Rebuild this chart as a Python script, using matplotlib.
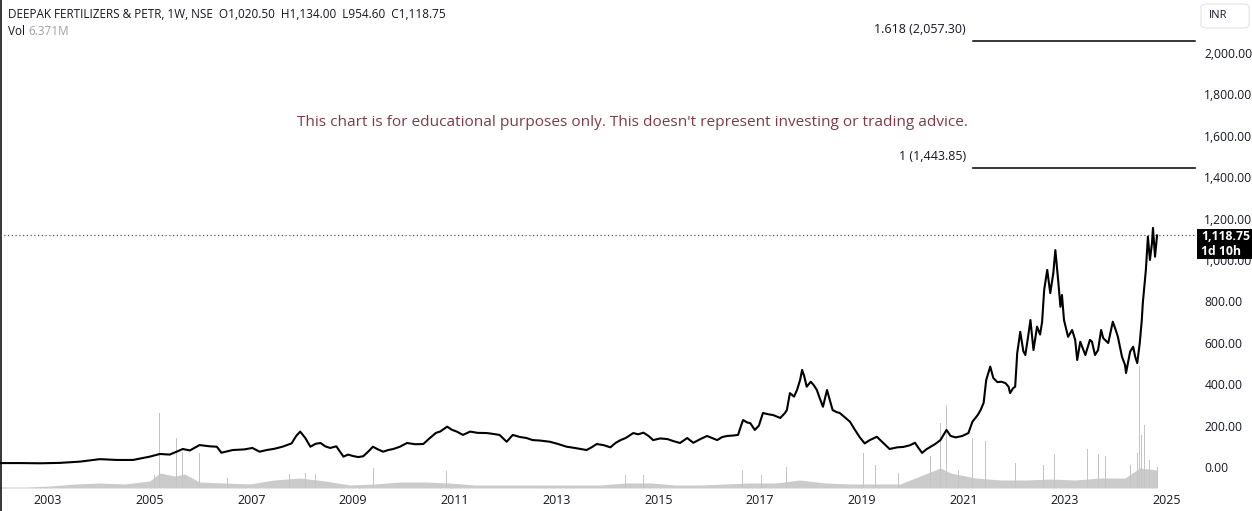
import numpy as np
import matplotlib
matplotlib.use("Agg")
import matplotlib.pyplot as plt
from matplotlib.patches import Rectangle, FancyBboxPatch

plt.rcParams['font.family'] = ['Open Sans', 'DejaVu Sans']

# weekly close (decimal year, INR)
price_dates = [
    2002.06, 2002.45, 2002.85, 2003.24, 2003.63, 2004.02, 2004.36, 2004.67, 2005.00, 2005.20,
    2005.39, 2005.53, 2005.65, 2005.79, 2005.98, 2006.18, 2006.32, 2006.41, 2006.63, 2006.86,
    2007.02, 2007.16, 2007.30, 2007.45, 2007.61, 2007.79, 2007.88, 2007.96, 2008.06, 2008.16,
    2008.26, 2008.36, 2008.45, 2008.55, 2008.67, 2008.81, 2008.90, 2009.00, 2009.10, 2009.20,
    2009.30, 2009.39, 2009.49, 2009.59, 2009.69, 2009.79, 2009.92, 2010.06, 2010.22, 2010.38,
    2010.51, 2010.63, 2010.71, 2010.85, 2010.94, 2011.04, 2011.16, 2011.30, 2011.45, 2011.63,
    2011.75, 2011.88, 2012.02, 2012.14, 2012.28, 2012.41, 2012.53, 2012.67, 2012.87, 2013.02,
    2013.20, 2013.36, 2013.45, 2013.59, 2013.69, 2013.79, 2013.92, 2014.06, 2014.16, 2014.26,
    2014.36, 2014.51, 2014.61, 2014.71, 2014.81, 2014.90, 2015.04, 2015.18, 2015.30, 2015.43,
    2015.57, 2015.69, 2015.83, 2015.96, 2016.06, 2016.16, 2016.26, 2016.36, 2016.47, 2016.57,
    2016.63, 2016.67, 2016.75, 2016.81, 2016.90, 2016.98, 2017.06, 2017.16, 2017.26, 2017.40,
    2017.49, 2017.53, 2017.59, 2017.67, 2017.73, 2017.79, 2017.83, 2017.87, 2017.92, 2018.00,
    2018.06, 2018.12, 2018.18, 2018.24, 2018.32, 2018.38, 2018.43, 2018.51, 2018.57, 2018.67,
    2018.77, 2018.87, 2018.96, 2019.06, 2019.16, 2019.30, 2019.41, 2019.55, 2019.70, 2019.82,
    2019.95, 2020.05, 2020.11, 2020.19, 2020.27, 2020.35, 2020.44, 2020.55, 2020.61, 2020.67,
    2020.75, 2020.85, 2020.98, 2021.10, 2021.18, 2021.28, 2021.34, 2021.40, 2021.45, 2021.53,
    2021.59, 2021.67, 2021.75, 2021.83, 2021.89, 2021.92, 2021.98, 2022.02, 2022.06, 2022.12,
    2022.18, 2022.22, 2022.28, 2022.32, 2022.38, 2022.45, 2022.51, 2022.55, 2022.59, 2022.65,
    2022.71, 2022.77, 2022.81, 2022.87, 2022.91, 2022.94, 2022.98, 2023.06, 2023.14, 2023.20,
    2023.24, 2023.30, 2023.40, 2023.49, 2023.53, 2023.59, 2023.65, 2023.71, 2023.75, 2023.85,
    2023.94, 2024.00, 2024.04, 2024.12, 2024.18, 2024.20, 2024.28, 2024.34, 2024.38, 2024.42,
    2024.47, 2024.51, 2024.53, 2024.59, 2024.63, 2024.67, 2024.71, 2024.73, 2024.77, 2024.81,
]
price_close = [
    19, 19, 18, 20, 26, 38, 34, 34, 50, 63,
    60, 74, 87, 80, 106, 100, 98, 69, 82, 85,
    92, 74, 82, 88, 98, 114, 150, 171, 140, 98,
    112, 116, 100, 92, 100, 50, 60, 53, 48, 52,
    75, 98, 85, 74, 82, 87, 98, 116, 110, 111,
    140, 165, 171, 195, 180, 171, 155, 171, 165, 164,
    160, 155, 122, 155, 145, 140, 130, 128, 122, 112,
    98, 92, 88, 82, 95, 111, 106, 95, 116, 130,
    140, 164, 158, 166, 150, 130, 138, 135, 125, 116,
    140, 117, 135, 150, 140, 130, 145, 150, 152, 155,
    200, 227, 215, 212, 179, 200, 261, 255, 251, 237,
    260, 275, 357, 340, 372, 420, 469, 440, 388, 412,
    395, 372, 330, 291, 372, 320, 275, 265, 261, 240,
    219, 179, 145, 114, 130, 146, 120, 87, 95, 97,
    105, 117, 95, 68, 85, 97, 110, 130, 155, 179,
    150, 143, 150, 164, 219, 250, 275, 310, 420, 485,
    430, 410, 412, 405, 388, 357, 381, 388, 550, 653,
    560, 541, 640, 710, 565, 678, 640, 702, 855, 952,
    840, 937, 1048, 889, 774, 831, 710, 629, 662, 614,
    517, 605, 541, 614, 605, 541, 565, 662, 623, 599,
    702, 660, 629, 533, 493, 454, 557, 581, 533, 502,
    599, 710, 792, 952, 1113, 1000, 1081, 1155, 1016, 1118.75,
]

# volume (millions of shares): general level and the tall weeks
vol_base_dates = [
    2002.06, 2002.55, 2003.04, 2003.53, 2004.02, 2004.51, 2005.00, 2005.20, 2005.49, 2005.69,
    2005.98, 2006.47, 2006.96, 2007.45, 2007.96, 2008.45, 2008.94, 2009.43, 2009.92, 2010.41,
    2010.90, 2011.39, 2011.88, 2012.37, 2012.87, 2013.36, 2013.86, 2014.36, 2014.85, 2015.34,
    2015.83, 2016.32, 2016.81, 2017.30, 2017.79, 2018.28, 2018.77, 2019.26, 2019.76, 2020.25,
    2020.55, 2020.75, 2021.24, 2021.73, 2022.22, 2022.71, 2023.20, 2023.69, 2024.18, 2024.47,
    2024.81,
]
vol_base = [
    0.3, 0.3, 0.6, 1.2, 1.5, 1.2, 2.1, 4.5, 3.6, 4.2,
    1.8, 1.5, 1.2, 2.4, 3.0, 2.1, 0.9, 1.2, 1.8, 1.8,
    1.5, 0.9, 0.9, 0.9, 0.9, 0.9, 0.9, 1.5, 1.5, 0.9,
    0.9, 1.2, 1.5, 1.5, 2.4, 1.5, 1.2, 1.2, 1.2, 4.2,
    6.0, 4.5, 3.0, 2.4, 2.4, 2.7, 2.4, 3.0, 3.0, 6.0,
    5.4,
]
vol_spike_dates = [
    2005.10, 2005.20, 2005.36, 2005.53, 2005.65, 2005.98, 2006.53, 2007.75, 2008.06, 2008.26,
    2009.41, 2010.02, 2010.83, 2014.36, 2014.71, 2016.65, 2017.04, 2017.53, 2018.87, 2019.04,
    2019.28, 2019.72, 2020.07, 2020.35, 2020.55, 2020.67, 2020.90, 2021.18, 2021.43, 2022.02,
    2022.57, 2022.79, 2022.96, 2023.44, 2023.65, 2023.79, 2024.12, 2024.28, 2024.42, 2024.46,
    2024.51, 2024.57, 2024.67, 2024.77, 2024.81,
]
vol_spike = [
    3.9, 22.5, 11.7, 15.0, 10.8, 10.5, 3.0, 4.2, 4.5, 4.2,
    6.0, 3.6, 5.1, 3.9, 3.9, 5.4, 3.9, 6.3, 6.0, 10.5,
    6.9, 4.5, 6.6, 9.6, 19.5, 24.9, 5.4, 15.0, 14.1, 7.5,
    6.9, 10.2, 8.7, 11.7, 10.2, 9.6, 16.5, 6.9, 10.5, 36.6,
    15.9, 18.9, 8.4, 6.9, 6.371,
]

fib_levels = [1.618, 1.0]
fib_prices = [2057.30, 1443.85]
fib_start = 2021.19
last_close = 1118.75
year_ticks = list(range(2003, 2026, 2))
price_ticks = list(range(0, 2001, 200))

W, H = 1252, 511
fig = plt.figure(figsize=(W / 100, H / 100), dpi=100)
fig.patch.set_facecolor('white')

ax = fig.add_axes([0, 23 / H, 1196 / W, 488 / H])
axv = ax.twinx()
axv.set_zorder(0)
ax.set_zorder(1)
ax.patch.set_visible(False)

# volume first, behind the price line
axv.fill_between(vol_base_dates, 0, vol_base, color='#cbcbcb', lw=0)
axv.bar(vol_spike_dates, vol_spike, width=0.018, color='#c4c4c4', lw=0)
axv.set_ylim(0, 146.4)
axv.axis('off')

ax.plot(price_dates, price_close, color='black', lw=1.5, zorder=3)
ax.axhline(last_close, color='#555555', lw=0.9, ls=(0, (1, 2)), zorder=2)
for lvl, p in zip(fib_levels, fib_prices):
    ax.plot([fib_start, 2025.55], [p, p], color='black', lw=1.1)
    ax.text(fib_start - 0.14, p + 25, f"{lvl:g} ({p:,.2f})", ha='right', va='bottom',
            fontsize=9, color='#131722')

ax.set_xlim(2002.056, 2025.576)
ax.set_ylim(-101.4, 2256)
for s in ax.spines.values():
    s.set_visible(False)
ax.set_xticks(year_ticks)
ax.set_xticklabels([str(y) for y in year_ticks], fontsize=9, color='#131722')
ax.tick_params(axis='x', length=0, pad=4)
ax.set_yticks(price_ticks)
ax.yaxis.tick_right()
ax.set_yticklabels([f"{v:,.2f}" for v in price_ticks], fontsize=8.7, color='#131722')
ax.tick_params(axis='y', length=0, pad=6)
for lab in ax.get_yticklabels():
    lab.set_horizontalalignment('left')

ax.text(632 / 1196, 1 - 122 / 488, "This chart is for educational purposes only. "
        "This doesn't represent investing or trading advice.",
        transform=ax.transAxes, ha='center', va='center', fontsize=11.1, color='#7d3b48')

# left border
fig.add_artist(Rectangle((0, 0), 2 / W, 1, transform=fig.transFigure, color='#3a3a3a', lw=0))

# header
fig.text(8 / W, 1 - 14 / H, "DEEPAK FERTILIZERS & PETR, 1W, NSE  O1,020.50  H1,134.00  L954.60  C1,118.75",
         fontsize=8.5, color='#131722', va='center')
fig.text(8 / W, 1 - 31 / H, "Vol", fontsize=8.5, color='#131722', va='center')
fig.text(28 / W, 1 - 31 / H, "6.371M", fontsize=8.5, color='#a0a0a0', va='center')

# current price tag
fig.add_artist(Rectangle((1197 / W, 1 - 259 / H), 55 / W, 30 / H, transform=fig.transFigure,
                         color='black', lw=0, zorder=10))
fig.text(1201 / W, 1 - 236 / H, f"{last_close:,.2f}", fontsize=8.8, fontweight='bold',
         color='white', va='center', zorder=11)
fig.text(1201 / W, 1 - 251 / H, "1d 10h", fontsize=8.8, fontweight='bold', color='white',
         va='center', zorder=11)

# currency box
fig.add_artist(FancyBboxPatch((1201 / W, 1 - 28 / H), 48 / W, 24 / H,
                              boxstyle="round,pad=0,rounding_size=0.006",
                              transform=fig.transFigure, fc='white', ec='#e0e3eb', lw=0.8))
fig.text(1209 / W, 1 - 16 / H, "INR", fontsize=8, color='#131722', va='center')

fig.savefig("out.png", dpi=100, facecolor='white')
